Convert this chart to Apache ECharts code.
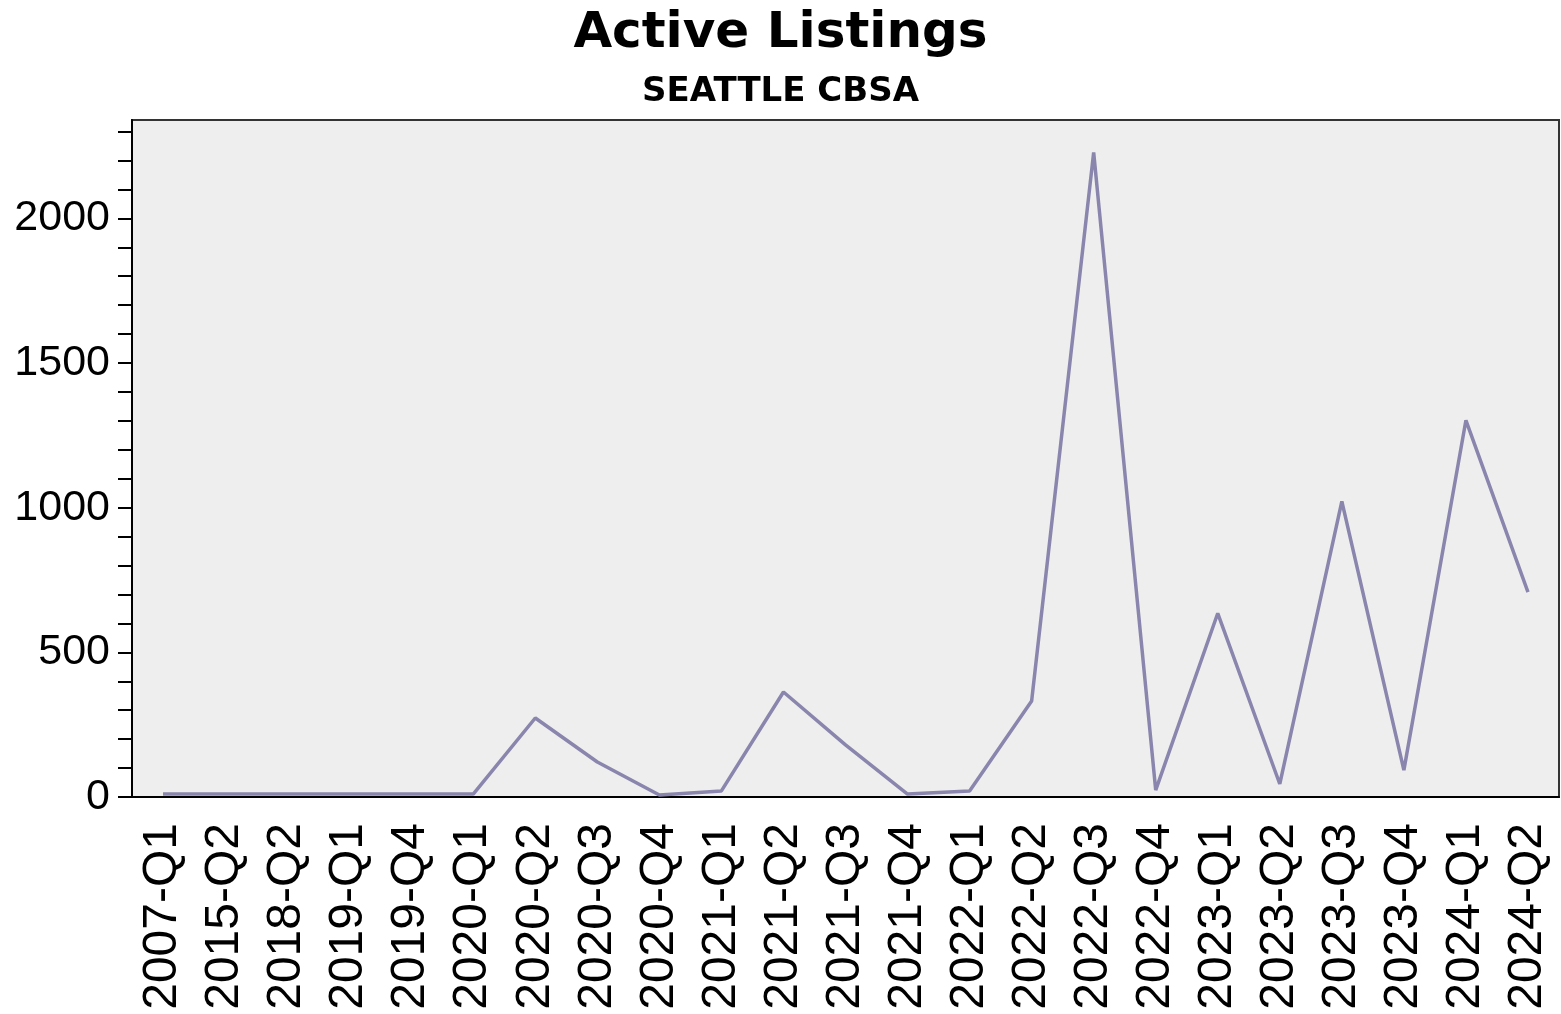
<!DOCTYPE html>
<html>
<head>
<meta charset="utf-8">
<title>Active Listings</title>
<script src="https://cdn.jsdelivr.net/npm/echarts@6/dist/echarts.min.js"></script>
<style>
  html, body { margin: 0; padding: 0; background: #fff; }
  #chart { width: 1561px; height: 1014px; }
</style>
</head>
<body>
<div id="chart"></div>
<script>
// quarters on the x axis
var quarters = ['2007-Q1','2015-Q2','2018-Q2','2019-Q1','2019-Q4','2020-Q1','2020-Q2','2020-Q3',
    '2020-Q4','2021-Q1','2021-Q2','2021-Q3','2021-Q4','2022-Q1','2022-Q2','2022-Q3','2022-Q4',
    '2023-Q1','2023-Q2','2023-Q3','2023-Q4','2024-Q1','2024-Q2'];
// active listings
var listings = [10, 10, 10, 10, 10, 10, 273, 121, 7, 21, 363, 180, 10, 21, 332, 2228, 24,
    635, 45, 1022, 93, 1302, 708];
var yTicks = [0, 500, 1000, 1500, 2000];

var chart = echarts.init(document.getElementById('chart'));
var option = {
    animation: false,
    title: [
        {
            text: 'Active Listings',
            left: 'center',
            top: 4,
            textStyle: {fontFamily: 'DejaVu Sans', fontWeight: 'bold', fontSize: 50, color: '#000'}
        },
        {
            text: 'SEATTLE CBSA',
            left: 'center',
            top: 70,
            textStyle: {fontFamily: 'DejaVu Sans', fontWeight: 'bold', fontSize: 34, color: '#000'}
        }
    ],
    grid: {
        left: 132,
        right: 2,
        top: 120,
        bottom: 217,
        show: true,
        backgroundColor: '#eeeeee',
        borderColor: '#333',
        borderWidth: 2
    },
    xAxis: {
        type: 'category',
        data: quarters,
        boundaryGap: true,
        axisLine: {lineStyle: {color: '#000', width: 2}},
        axisTick: {alignWithLabel: true, length: 20, lineStyle: {color: '#000', width: 2}},
        axisLabel: {
            rotate: 90,
            interval: 0,
            margin: 26,
            color: '#000',
            fontFamily: 'Liberation Sans',
            fontSize: 48
        },
        splitLine: {show: false}
    },
    yAxis: {
        type: 'value',
        min: 0,
        max: 2340,
        interval: 500,
        axisLine: {show: true, lineStyle: {color: '#000', width: 2}},
        axisTick: {show: true, length: 14, customValues: yTicks, lineStyle: {color: '#000', width: 2}},
        minorTick: {show: true, splitNumber: 5, length: 14, lineStyle: {color: '#000', width: 2}},
        axisLabel: {
            margin: 22,
            color: '#000',
            fontFamily: 'Liberation Sans',
            fontSize: 43,
            customValues: yTicks,
            formatter: function (v) { return String(v); }
        },
        splitLine: {show: false}
    },
    series: [
        {
            type: 'line',
            data: listings,
            symbol: 'none',
            lineStyle: {color: '#8985ad', width: 3.5}
        }
    ]
};
chart.setOption(option);
</script>
</body>
</html>
